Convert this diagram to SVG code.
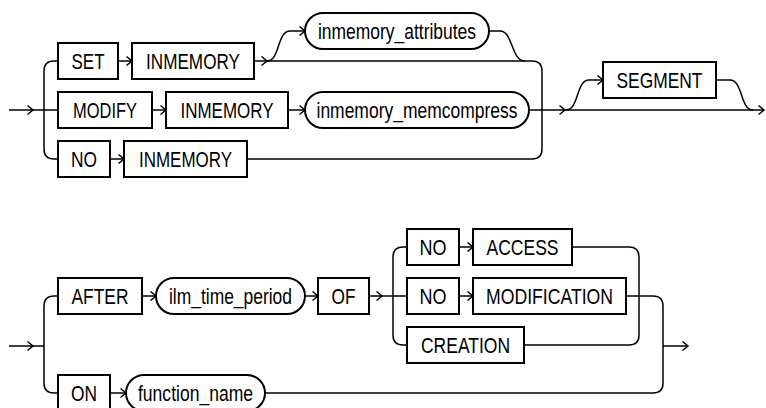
<svg xmlns="http://www.w3.org/2000/svg" xmlns:xlink="http://www.w3.org/1999/xlink" width="766" height="408" viewBox="0 0 766 408">
<style>
.box{fill:#fff;stroke:#000;stroke-width:2}
.ln{fill:none;stroke:#000;stroke-width:1.5}
.arr{fill:none;stroke:#000;stroke-width:1.5}
text{font-family:"Liberation Sans",Arial,sans-serif;font-size:22px;fill:#000;text-anchor:middle}
</style>
<defs>
<path id="a" class="arr" d="M -5.5 -4.5 L 0 0 L -5.5 4.5"/>
</defs>
<rect width="766" height="408" fill="#fff"/>
<g id="connectors">
<path class="ln" d="M 9 110 H 58"/>
<path class="ln" d="M 58 61 H 54 Q 44 61 44 71 V 149 Q 44 159 54 159 H 58"/>
<path class="ln" d="M 118 61 H 132"/>
<path class="ln" d="M 254 61 H 532 Q 542 61 542 71 V 149 Q 542 159 532 159 H 247"/>
<path class="ln" d="M 267 61 C 280 61 277 31 290 31 H 305"/>
<path class="ln" d="M 489 31 H 500 C 513 31 511 61 525 61"/>
<path class="ln" d="M 152 110 H 166"/>
<path class="ln" d="M 288 110 H 305"/>
<path class="ln" d="M 529 110 H 764"/>
<path class="ln" d="M 110 159 H 124"/>
<path class="ln" d="M 566 110 C 579 110 576 80 589 80 H 603"/>
<path class="ln" d="M 716 80 H 730 C 743 80 740 110 753 110"/>
<use xlink:href="#a" x="33" y="110"/>
<use xlink:href="#a" x="132" y="61"/>
<use xlink:href="#a" x="267" y="61"/>
<use xlink:href="#a" x="305" y="31"/>
<use xlink:href="#a" x="166" y="110"/>
<use xlink:href="#a" x="305" y="110"/>
<use xlink:href="#a" x="565" y="110"/>
<use xlink:href="#a" x="603" y="80"/>
<use xlink:href="#a" x="764" y="110"/>
<use xlink:href="#a" x="124" y="159"/>
<path class="ln" d="M 9 346 H 44"/>
<path class="ln" d="M 58 296 H 54 Q 44 296 44 306 V 383 Q 44 393 54 393 H 58"/>
<path class="ln" d="M 142 296 H 156"/>
<path class="ln" d="M 305 296 H 318"/>
<path class="ln" d="M 369 296 H 407"/>
<path class="ln" d="M 407 247 H 403 Q 393 247 393 257 V 335 Q 393 345 403 345 H 407"/>
<path class="ln" d="M 459 247 H 473"/>
<path class="ln" d="M 459 296 H 473"/>
<path class="ln" d="M 572 247 H 629 Q 639 247 639 257 V 335 Q 639 345 629 345 H 524"/>
<path class="ln" d="M 626 296 H 653 Q 663 296 663 306 V 383 Q 663 393 653 393 H 265"/>
<path class="ln" d="M 663 346 H 688"/>
<path class="ln" d="M 110 393 H 126"/>
<use xlink:href="#a" x="33" y="346"/>
<use xlink:href="#a" x="156" y="296"/>
<use xlink:href="#a" x="318" y="296"/>
<use xlink:href="#a" x="382" y="296"/>
<use xlink:href="#a" x="473" y="247"/>
<use xlink:href="#a" x="473" y="296"/>
<use xlink:href="#a" x="126" y="393"/>
<use xlink:href="#a" x="688" y="346"/>
</g>
<g id="set"><rect class="box" x="58" y="43" width="60" height="36"/><text x="88" y="68.5" textLength="33" lengthAdjust="spacingAndGlyphs">SET</text></g>
<g id="set_inmemory"><rect class="box" x="132" y="43" width="122" height="36"/><text x="193" y="68.5" textLength="94" lengthAdjust="spacingAndGlyphs">INMEMORY</text></g>
<g id="inmemory_attributes"><rect class="box" x="305" y="13" width="184" height="36" rx="18"/><text x="397" y="38.5" textLength="158" lengthAdjust="spacingAndGlyphs">inmemory_attributes</text></g>
<g id="modify"><rect class="box" x="58" y="92" width="94" height="36"/><text x="105" y="117.5" textLength="64" lengthAdjust="spacingAndGlyphs">MODIFY</text></g>
<g id="modify_inmemory"><rect class="box" x="166" y="92" width="122" height="36"/><text x="227" y="117.5" textLength="93" lengthAdjust="spacingAndGlyphs">INMEMORY</text></g>
<g id="inmemory_memcompress"><rect class="box" x="305" y="92" width="224" height="36" rx="18"/><text x="417" y="117.5" textLength="201" lengthAdjust="spacingAndGlyphs">inmemory_memcompress</text></g>
<g id="no"><rect class="box" x="58" y="141" width="52" height="36"/><text x="84" y="166.5" textLength="26" lengthAdjust="spacingAndGlyphs">NO</text></g>
<g id="no_inmemory"><rect class="box" x="124" y="141" width="123" height="36"/><text x="185.5" y="166.5" textLength="93" lengthAdjust="spacingAndGlyphs">INMEMORY</text></g>
<g id="segment"><rect class="box" x="603" y="62" width="113" height="36"/><text x="659.5" y="87.5" textLength="86" lengthAdjust="spacingAndGlyphs">SEGMENT</text></g>
<g id="after"><rect class="box" x="58" y="278" width="84" height="36"/><text x="100" y="303.5" textLength="57" lengthAdjust="spacingAndGlyphs">AFTER</text></g>
<g id="ilm_time_period"><rect class="box" x="156" y="278" width="149" height="36" rx="18"/><text x="230.5" y="303.5" textLength="123" lengthAdjust="spacingAndGlyphs">ilm_time_period</text></g>
<g id="of"><rect class="box" x="318" y="278" width="51" height="36"/><text x="343.5" y="303.5" textLength="24" lengthAdjust="spacingAndGlyphs">OF</text></g>
<g id="no_access"><rect class="box" x="407" y="229" width="52" height="36"/><text x="433" y="254.5" textLength="27" lengthAdjust="spacingAndGlyphs">NO</text></g>
<g id="access"><rect class="box" x="473" y="229" width="99" height="36"/><text x="522.5" y="254.5" textLength="72" lengthAdjust="spacingAndGlyphs">ACCESS</text></g>
<g id="no_modification"><rect class="box" x="407" y="278" width="52" height="36"/><text x="433" y="303.5" textLength="27" lengthAdjust="spacingAndGlyphs">NO</text></g>
<g id="modification"><rect class="box" x="473" y="278" width="153" height="36"/><text x="549.5" y="303.5" textLength="127" lengthAdjust="spacingAndGlyphs">MODIFICATION</text></g>
<g id="creation"><rect class="box" x="407" y="327" width="117" height="36"/><text x="465.5" y="352.5" textLength="89" lengthAdjust="spacingAndGlyphs">CREATION</text></g>
<g id="on"><rect class="box" x="58" y="375" width="52" height="36"/><text x="84" y="400.5" textLength="26" lengthAdjust="spacingAndGlyphs">ON</text></g>
<g id="function_name"><rect class="box" x="126" y="375" width="139" height="36" rx="18"/><text x="195.5" y="400.5" textLength="115" lengthAdjust="spacingAndGlyphs">function_name</text></g>
</svg>
